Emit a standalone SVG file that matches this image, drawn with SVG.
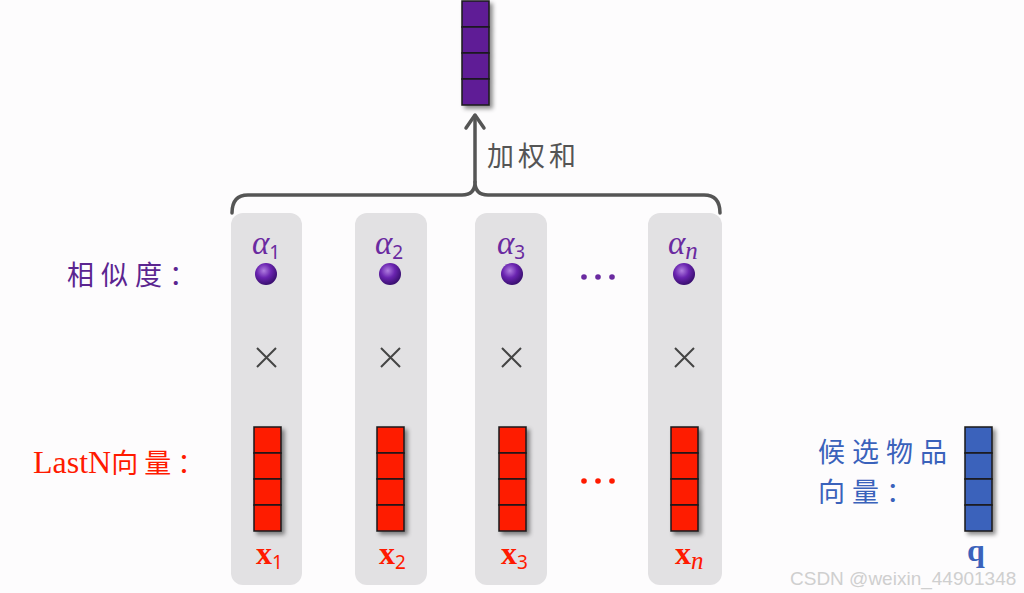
<svg xmlns="http://www.w3.org/2000/svg" width="1024" height="593" viewBox="0 0 1024 593">
<defs>
<style>
.col{fill:#e2e1e3}
.cell{stroke:#1a1a1a;stroke-width:1.5}
.red{fill:#fe1a00}
.pur{fill:#5e1f96}
.blu{fill:#3a62bb}
.cjk{font-family:"Noto Sans CJK SC","Noto Sans CJK JP",sans-serif;font-size:27px}
.alpha{font-family:"Liberation Serif",serif;font-style:italic;font-size:33px;fill:#6a2aa0}
.sub{font-family:"Noto Sans",sans-serif;font-style:normal;font-size:19px;fill:#6a2aa0}
.subn{font-family:"Liberation Serif",serif;font-style:italic;font-size:25px;fill:#6a2aa0}
.x{font-family:"Liberation Serif",serif;font-weight:bold;font-size:32px;fill:#ff1a00}
.xs{font-family:"Noto Sans",sans-serif;font-weight:normal;font-size:19px;fill:#ff1a00}
.xn{font-family:"Liberation Serif",serif;font-style:italic;font-weight:normal;font-size:25px;fill:#ff1a00}
.times{stroke:#444;stroke-width:2;fill:none}
</style>
<radialGradient id="ball" cx="0.4" cy="0.35" r="0.65">
<stop offset="0" stop-color="#b07ee0"/>
<stop offset="0.5" stop-color="#6a24b0"/>
<stop offset="1" stop-color="#3a0f70"/>
</radialGradient>
<filter id="sh" x="-30%" y="-10%" width="160%" height="130%">
<feDropShadow dx="3" dy="3" stdDeviation="2" flood-color="#000" flood-opacity="0.45"/>
</filter>
<g id="vec">
<rect x="0" y="0" width="27" height="26" class="cell"/>
<rect x="0" y="26" width="27" height="26" class="cell"/>
<rect x="0" y="52" width="27" height="26" class="cell"/>
<rect x="0" y="78" width="27" height="26" class="cell"/>
</g>
</defs>
<rect width="1024" height="593" fill="#fdfcfd"/>

<g id="columns">
<rect class="col" x="231" y="213" width="71" height="372" rx="12"/>
<rect class="col" x="355" y="213" width="72" height="372" rx="12"/>
<rect class="col" x="475" y="213" width="72" height="372" rx="12"/>
<rect class="col" x="648" y="213" width="74" height="372" rx="12"/>
</g>

<g id="output">
<use href="#vec" x="462" y="1" class="pur" filter="url(#sh)"/>
</g>

<g id="connectors" fill="none" stroke="#555" stroke-width="3.5" stroke-linecap="round" stroke-linejoin="round">
<path d="M232,213 Q232,195 248,195 L462,195 Q475,195 475,182 Q475,195 488,195 L704,195 Q720,195 720,213"/>
<path d="M475,182 L475,116"/>
<path d="M466,128 L475,115 L484,128"/>
</g>
<text class="cjk" x="487" y="166" fill="#555" font-size="28px" letter-spacing="4">加权和</text>

<g id="labels">
<text class="cjk" x="67" y="285" fill="#5b2590" letter-spacing="7">相似度：</text>
<text x="33" y="473" fill="#ff1a00" font-family="Liberation Serif,serif" font-size="32px">LastN<tspan class="cjk" font-size="29px" letter-spacing="6">向量：</tspan></text>
<text class="cjk" x="818" y="462" fill="#3a62bb" letter-spacing="7">候选物品</text>
<text class="cjk" x="818" y="502" fill="#3a62bb" letter-spacing="7">向量：</text>
</g>

<g id="item1">
<text class="alpha" x="252" y="254">α<tspan class="sub" dy="5">1</tspan></text>
<circle cx="266" cy="274" r="11" fill="url(#ball)"/>
<path class="times" d="M257,348 L276,367 M276,348 L257,367"/>
<use href="#vec" x="254" y="427" class="red" filter="url(#sh)"/>
<text class="x" x="256" y="564">x<tspan class="xs" dy="5">1</tspan></text>
</g>
<g id="item2">
<text class="alpha" x="375" y="254">α<tspan class="sub" dy="5">2</tspan></text>
<circle cx="390" cy="274" r="11" fill="url(#ball)"/>
<path class="times" d="M381,348 L400,367 M400,348 L381,367"/>
<use href="#vec" x="377" y="427" class="red" filter="url(#sh)"/>
<text class="x" x="379" y="564">x<tspan class="xs" dy="5">2</tspan></text>
</g>
<g id="item3">
<text class="alpha" x="497" y="254">α<tspan class="sub" dy="5">3</tspan></text>
<circle cx="512" cy="274" r="11" fill="url(#ball)"/>
<path class="times" d="M502,348 L521,367 M521,348 L502,367"/>
<use href="#vec" x="499" y="427" class="red" filter="url(#sh)"/>
<text class="x" x="501" y="564">x<tspan class="xs" dy="5">3</tspan></text>
</g>
<g id="itemn">
<text class="alpha" x="668" y="254">α<tspan class="subn" dy="5">n</tspan></text>
<circle cx="684" cy="274" r="11" fill="url(#ball)"/>
<path class="times" d="M675,348 L694,367 M694,348 L675,367"/>
<use href="#vec" x="671" y="427" class="red" filter="url(#sh)"/>
<text class="x" x="675" y="564">x<tspan class="xn" dy="5">n</tspan></text>
</g>

<g id="dots">
<circle cx="584" cy="277" r="2.8" fill="#6a2aa0"/>
<circle cx="598" cy="277" r="2.8" fill="#6a2aa0"/>
<circle cx="612" cy="277" r="2.8" fill="#6a2aa0"/>
<circle cx="584" cy="481" r="2.8" fill="#ff1a00"/>
<circle cx="598" cy="481" r="2.8" fill="#ff1a00"/>
<circle cx="612" cy="481" r="2.8" fill="#ff1a00"/>
</g>

<g id="query">
<use href="#vec" x="965" y="427" class="blu" filter="url(#sh)"/>
<text x="967" y="561" font-family="Liberation Serif,serif" font-weight="bold" font-size="32px" fill="#3a62bb">q</text>
</g>

<text x="790" y="585" font-family="Liberation Sans,sans-serif" font-size="19px" fill="#cfcfcf">CSDN @weixin_44901348</text>
</svg>
